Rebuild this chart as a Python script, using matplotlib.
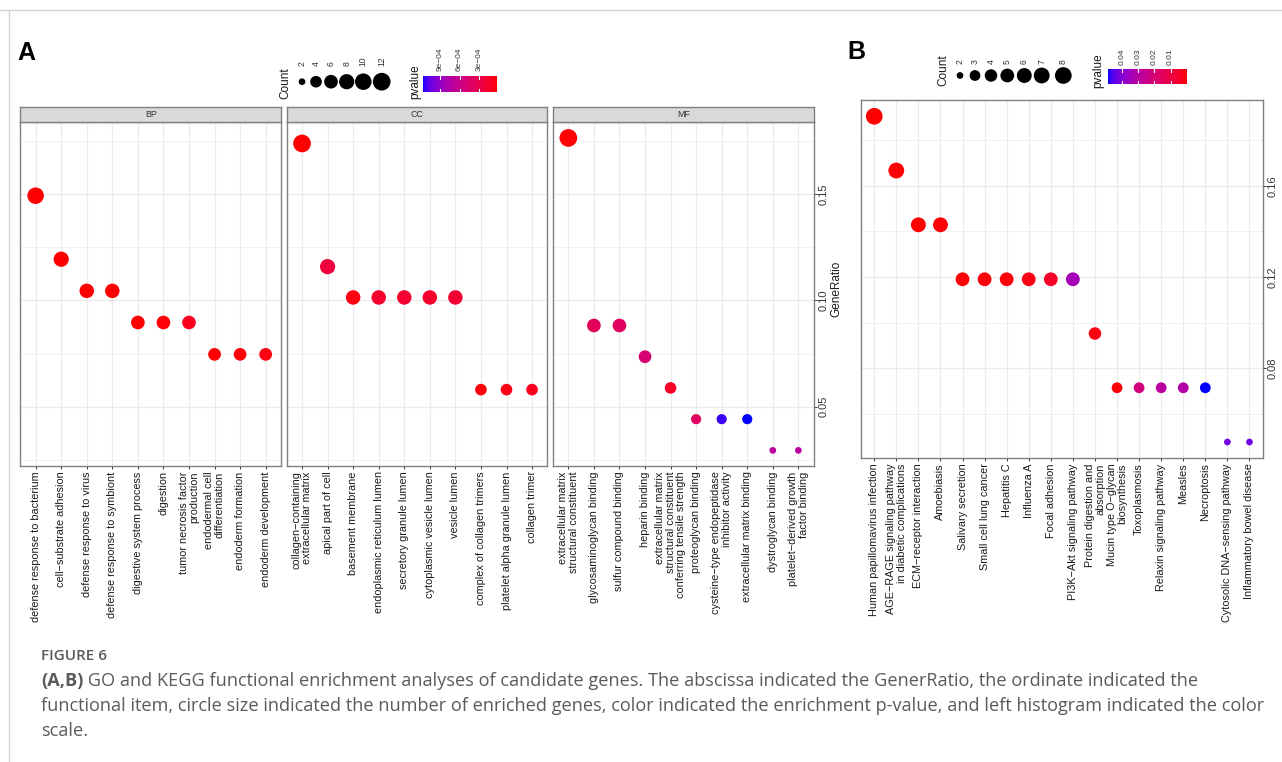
import numpy as np
import matplotlib
matplotlib.use("Agg")
import matplotlib.pyplot as plt
from matplotlib.colors import ListedColormap, Normalize

W, H, DPI = 1282, 762, 100

# ---------------- GO enrichment (panel A) ----------------
bp_terms = ["defense response to bacterium", "cell\u2212substrate adhesion",
            "defense response to virus", "defense response to symbiont",
            "digestive system process", "digestion",
            "tumor necrosis factor\nproduction", "endodermal cell\ndifferentiation",
            "endoderm formation", "endoderm development"]
bp_ratio = [0.1493, 0.1194, 0.1045, 0.1045, 0.0896, 0.0896, 0.0896, 0.0746, 0.0746, 0.0746]
bp_count = [10, 8, 7, 7, 6, 6, 6, 5, 5, 5]
bp_pval = [2.8e-5, 3.5e-5, 3.0e-5, 3.0e-5, 3.2e-5, 4.0e-5, 9.0e-5, 3.5e-5, 4.5e-5, 6.0e-5]

cc_terms = ["collagen\u2212containing\nextracellular matrix", "apical part of cell",
            "basement membrane", "endoplasmic reticulum lumen",
            "secretory granule lumen", "cytoplasmic vesicle lumen", "vesicle lumen",
            "complex of collagen trimers", "platelet alpha granule lumen",
            "collagen trimer"]
cc_ratio = [0.1739, 0.1159, 0.1014, 0.1014, 0.1014, 0.1014, 0.1014, 0.0580, 0.0580, 0.0580]
cc_count = [12, 8, 7, 7, 7, 7, 7, 4, 4, 4]
cc_pval = [3.0e-5, 2.2e-4, 6.0e-5, 1.5e-4, 1.7e-4, 1.6e-4, 1.8e-4, 5.0e-5, 8.0e-5, 9.0e-5]

mf_terms = ["extracellular matrix\nstructural constituent", "glycosaminoglycan binding",
            "sulfur compound binding", "heparin binding",
            "extracellular matrix\nstructural constituent\nconferring tensile strength",
            "proteoglycan binding",
            "cysteine\u2212type endopeptidase\ninhibitor activity",
            "extracellular matrix binding", "dystroglycan binding",
            "platelet\u2212derived growth\nfactor binding"]
mf_ratio = [0.1765, 0.0882, 0.0882, 0.0735, 0.0588, 0.0441, 0.0441, 0.0441, 0.0294, 0.0294]
mf_count = [12, 6, 6, 5, 4, 3, 3, 3, 2, 2]
mf_pval = [4.0e-5, 3.7e-4, 4.0e-4, 4.8e-4, 1.3e-4, 4.0e-4, 1.12e-3, 1.157e-3, 7.0e-4, 7.2e-4]

go_count_breaks = [2, 4, 6, 8, 10, 12]
go_pval_breaks = [9e-4, 6e-4, 3e-4]
go_pval_labels = ["9e\u221204", "6e\u221204", "3e\u221204"]

# ---------------- KEGG enrichment (panel B) ----------------
kegg_terms = ["Human papillomavirus infection",
              "AGE\u2212RAGE signaling pathway\nin diabetic complications",
              "ECM\u2212receptor interaction", "Amoebiasis", "Salivary secretion",
              "Small cell lung cancer", "Hepatitis C", "Influenza A", "Focal adhesion",
              "PI3K\u2212Akt signaling pathway", "Protein digestion and\nabsorption",
              "Mucin type O\u2212glycan\nbiosynthesis", "Toxoplasmosis",
              "Relaxin signaling pathway", "Measles", "Necroptosis",
              "Cytosolic DNA\u2212sensing pathway", "Inflammatory bowel disease"]
kegg_ratio = [0.1905, 0.1667, 0.1429, 0.1429, 0.1190, 0.1190, 0.1190, 0.1190, 0.1190,
              0.1190, 0.0952, 0.0714, 0.0714, 0.0714, 0.0714, 0.0714, 0.0476, 0.0476]
kegg_count = [8, 7, 6, 6, 5, 5, 5, 5, 5, 5, 4, 3, 3, 3, 3, 3, 2, 2]
kegg_pval = [0.0001, 0.0004, 0.0003, 0.0008, 0.0005, 0.0009, 0.0010, 0.0020, 0.0045,
             0.0340, 0.0015, 0.0012, 0.0220, 0.0290, 0.0310, 0.0482, 0.0420, 0.0420]

kegg_count_breaks = [2, 3, 4, 5, 6, 7, 8]
kegg_pval_breaks = [0.04, 0.03, 0.02, 0.01]
kegg_pval_labels = ["0.04", "0.03", "0.02", "0.01"]

caption_title = "FIGURE 6"
caption_bold = "(A,B)"
caption_lines = [
    " GO and KEGG functional enrichment analyses of candidate genes. The abscissa indicated the GenerRatio, the ordinate indicated the",
    "functional item, circle size indicated the number of enriched genes, color indicated the enrichment p-value, and left histogram indicated the color",
    "scale.",
]


# ---------------- colour scale: red (low p) -> blue (high p), in CIELAB ----------------
def srgb_to_lab(rgb):
    rgb = np.asarray(rgb, float)
    lin = np.where(rgb <= 0.04045, rgb / 12.92, ((rgb + 0.055) / 1.055) ** 2.4)
    M = np.array([[0.4124, 0.3576, 0.1805], [0.2126, 0.7152, 0.0722], [0.0193, 0.1192, 0.9505]])
    xyz = M @ lin / np.array([0.95047, 1.0, 1.08883])
    d = 6 / 29
    f = np.where(xyz > d ** 3, np.cbrt(xyz), xyz / (3 * d * d) + 4 / 29)
    return np.array([116 * f[1] - 16, 500 * (f[0] - f[1]), 200 * (f[1] - f[2])])


def lab_to_srgb(lab):
    L, a, b = lab
    fy = (L + 16) / 116
    fx = fy + a / 500
    fz = fy - b / 200
    d = 6 / 29
    f = np.array([fx, fy, fz])
    xyz = np.where(f > d, f ** 3, 3 * d * d * (f - 4 / 29)) * np.array([0.95047, 1.0, 1.08883])
    Minv = np.linalg.inv(np.array([[0.4124, 0.3576, 0.1805], [0.2126, 0.7152, 0.0722],
                                   [0.0193, 0.1192, 0.9505]]))
    lin = np.clip(Minv @ xyz, 0, 1)
    rgb = np.where(lin <= 0.0031308, 12.92 * lin, 1.055 * lin ** (1 / 2.4) - 0.055)
    return np.clip(rgb, 0, 1)


lab_lo = srgb_to_lab([1, 0, 0])
lab_hi = srgb_to_lab([0, 0, 1])
ramp = [lab_to_srgb(lab_lo + t * (lab_hi - lab_lo)) for t in np.linspace(0, 1, 256)]
cmap = ListedColormap(ramp)


def size_scale(counts, cmin, cmax, dmin, dmax):
    c = np.asarray(counts, float)
    d_px = dmin + (dmax - dmin) * np.sqrt((c - cmin) / (cmax - cmin))
    return (d_px * 72.0 / DPI) ** 2


plt.rcParams["font.family"] = ["Liberation Sans", "DejaVu Sans"]

fig = plt.figure(figsize=(W / DPI, H / DPI), dpi=DPI)
fig.patch.set_facecolor("white")

# overlay in pixel units for page furniture and legends
ov = fig.add_axes([0, 0, 1, 1])
ov.set_xlim(0, W)
ov.set_ylim(H, 0)
ov.axis("off")


def px_axes(x0, y0, x1, y1):
    return fig.add_axes([x0 / W, 1 - y1 / H, (x1 - x0) / W, (y1 - y0) / H])


GRID = "#EBEBEB"
BORDER = "#808080"
TXT = "#1a1a1a"
LBL_FS = 7.8


def style_panel(ax, n, ylim, major, minor, right_axis):
    ax.set_xlim(-0.6, n - 0.4)
    ax.set_ylim(*ylim)
    ax.set_axisbelow(True)
    ax.set_xticks(np.arange(n))
    ax.set_yticks(major)
    ax.set_yticks(minor, minor=True)
    ax.grid(True, which="major", color=GRID, lw=0.9)
    ax.grid(True, which="minor", axis="y", color=GRID, lw=0.5)
    for s in ax.spines.values():
        s.set_color(BORDER)
        s.set_linewidth(1.0)
    ax.tick_params(axis="x", which="major", length=2.3, width=0.7, color="#333333",
                   pad=1.5, labelsize=LBL_FS, labelcolor=TXT)
    ax.tick_params(which="minor", length=0)
    if right_axis:
        ax.yaxis.tick_right()
        ax.tick_params(axis="y", which="major", length=2.3, width=0.7, color="#333333",
                       pad=1.5, labelsize=8.0, labelcolor="#333333", labelrotation=90)
    else:
        ax.tick_params(axis="y", which="both", length=0, labelleft=False, labelright=False)


def set_terms(ax, terms):
    ax.set_xticklabels(terms, rotation=90, multialignment="right", linespacing=1.1)


def strip(x0, x1, y0, y1, label):
    s = px_axes(x0, y0, x1, y1)
    s.set_facecolor("#D9D9D9")
    s.set_xticks([])
    s.set_yticks([])
    for sp in s.spines.values():
        sp.set_color(BORDER)
        sp.set_linewidth(1.0)
    s.text(0.5, 0.5, label, ha="center", va="center", fontsize=6.4, color="#333333",
           transform=s.transAxes)


# ---------------- panel A ----------------
go_all_ratio = np.concatenate([bp_ratio, cc_ratio, mf_ratio])
lo, hi = go_all_ratio.min(), go_all_ratio.max()
go_ylim = (lo - 0.05 * (hi - lo), hi + 0.05 * (hi - lo))
go_counts_all = np.concatenate([bp_count, cc_count, mf_count])
go_pvals_all = np.concatenate([bp_pval, cc_pval, mf_pval])
go_norm = Normalize(go_pvals_all.min(), go_pvals_all.max())
go_cmin, go_cmax = go_counts_all.min(), go_counts_all.max()


def go_size(c):
    return size_scale(c, go_cmin, go_cmax, 6.7, 17.7)


facets = [("BP", bp_terms, bp_ratio, bp_count, bp_pval, 20.3, 281.0),
          ("CC", cc_terms, cc_ratio, cc_count, cc_pval, 286.7, 547.4),
          ("MF", mf_terms, mf_ratio, mf_count, mf_pval, 553.0, 813.7)]
for i, (name, terms, ratio, cnt, pv, x0, x1) in enumerate(facets):
    ax = px_axes(x0, 122.3, x1, 466.0)
    ax.scatter(np.arange(len(terms)), ratio, s=go_size(cnt), c=pv, cmap=cmap,
               norm=go_norm, linewidths=0, zorder=3)
    style_panel(ax, len(terms), go_ylim, [0.05, 0.10, 0.15],
                [0.025, 0.075, 0.125, 0.175], right_axis=(i == 2))
    if i == 2:
        ax.set_yticklabels(["0.05", "0.10", "0.15"], va="center")
    set_terms(ax, terms)
    strip(x0, x1, 106.7, 122.3, name)

fig.text(836 / W, 1 - 289 / H, "GeneRatio", rotation=90, ha="center", va="center",
         fontsize=8.5, color=TXT)

# ---------------- panel B ----------------
lo, hi = min(kegg_ratio), max(kegg_ratio)
kegg_ylim = (lo - 0.05 * (hi - lo), hi + 0.05 * (hi - lo))
kegg_norm = Normalize(min(kegg_pval), max(kegg_pval))
kegg_cmin, kegg_cmax = min(kegg_count), max(kegg_count)


def kegg_size(c):
    return size_scale(c, kegg_cmin, kegg_cmax, 6.7, 16.7)


axb = px_axes(861.0, 100.0, 1262.7, 458.3)
axb.scatter(np.arange(len(kegg_terms)), kegg_ratio, s=kegg_size(kegg_count), c=kegg_pval,
            cmap=cmap, norm=kegg_norm, linewidths=0, zorder=3)
style_panel(axb, len(kegg_terms), kegg_ylim, [0.08, 0.12, 0.16], [0.06, 0.10, 0.14, 0.18],
            right_axis=True)
axb.set_yticklabels(["0.08", "0.12", "0.16"], va="center")
set_terms(axb, kegg_terms)
# axis title sits at the right page edge, partly beyond it
fig.text(1289 / W, 1 - 279 / H, "GeneRatio", rotation=90, ha="center", va="center",
         fontsize=8.5, color=TXT)


# ---------------- legends ----------------
def count_legend(title_xy, xs, y, lab_bottom, breaks, size_fn):
    ov.text(title_xy[0], title_xy[1], "Count", rotation=90, ha="center", va="center",
            fontsize=8.5, color=TXT)
    ov.scatter(xs, [y] * len(xs), s=size_fn(breaks), color="black", linewidths=0)
    for x, b in zip(xs, breaks):
        ov.text(x, lab_bottom, str(b), rotation=90, ha="center", va="bottom",
                fontsize=6.2, color="#333333")


def pval_legend(title_xy, x0, x1, y0, y1, lab_bottom, norm, breaks, labels):
    ov.text(title_xy[0], title_xy[1], "pvalue", rotation=90, ha="center", va="center",
            fontsize=8.5, color=TXT)
    vals = np.linspace(norm.vmax, norm.vmin, 200)[None, :]
    ov.imshow(vals, cmap=cmap, norm=norm, extent=(x0, x1, y1, y0), aspect="auto",
              interpolation="bilinear", zorder=2)
    hgt = y1 - y0
    for b, lab in zip(breaks, labels):
        x = x0 + (norm.vmax - b) / (norm.vmax - norm.vmin) * (x1 - x0)
        ov.plot([x, x], [y0, y0 + hgt * 0.2], color="white", lw=0.8, zorder=3)
        ov.plot([x, x], [y1 - hgt * 0.2, y1], color="white", lw=0.8, zorder=3)
        ov.text(x, lab_bottom, lab, rotation=90, ha="center", va="bottom",
                fontsize=6.0, color="#333333")
    ov.set_xlim(0, W)
    ov.set_ylim(H, 0)


count_legend((285, 83), [302, 316, 331, 346.7, 363.3, 381.7], 81.7, 66,
             go_count_breaks, go_size)
pval_legend((415.5, 82), 423.3, 496.7, 75.7, 91.7, 71, go_norm, go_pval_breaks,
            go_pval_labels)
count_legend((943, 70.5), [960, 975, 991, 1007.3, 1024.3, 1041.7, 1063.3], 75.5, 64,
             kegg_count_breaks, kegg_size)
pval_legend((1098, 70.5), 1108.3, 1186.7, 69.0, 84.0, 65, kegg_norm, kegg_pval_breaks,
            kegg_pval_labels)

# panel letters
ov.text(17, 53, "A", fontsize=18, fontweight="bold", color="black", ha="left", va="center")
ov.text(847, 52, "B", fontsize=18, fontweight="bold", color="black", ha="left", va="center")

# page rules
ov.plot([0, W], [10, 10], color="#D5D5D5", lw=1.0)
ov.plot([9, 9], [10, H], color="#D5D5D5", lw=1.0)

# caption
CAP = "#5a5a5a"
CAP_FS = 13.1
ov.text(41, 656, caption_title, fontsize=11, fontweight="semibold", color=CAP,
        ha="left", va="center", family="Open Sans")
renderer = fig.canvas.get_renderer()
tb = ov.text(41, 681, caption_bold, fontsize=CAP_FS, fontweight="bold", color=CAP,
             ha="left", va="center", family="Open Sans")
bb = tb.get_window_extent(renderer=renderer)
ov.text(bb.x1, 681, caption_lines[0], fontsize=CAP_FS, color=CAP, ha="left", va="center",
        family="Open Sans", transform=matplotlib.transforms.blended_transform_factory(
            matplotlib.transforms.IdentityTransform(), ov.transData))
ov.text(41, 706, caption_lines[1], fontsize=CAP_FS, color=CAP, ha="left", va="center",
        family="Open Sans")
ov.text(41, 731, caption_lines[2], fontsize=CAP_FS, color=CAP, ha="left", va="center",
        family="Open Sans")

fig.savefig("out.png", dpi=DPI, facecolor="white")
